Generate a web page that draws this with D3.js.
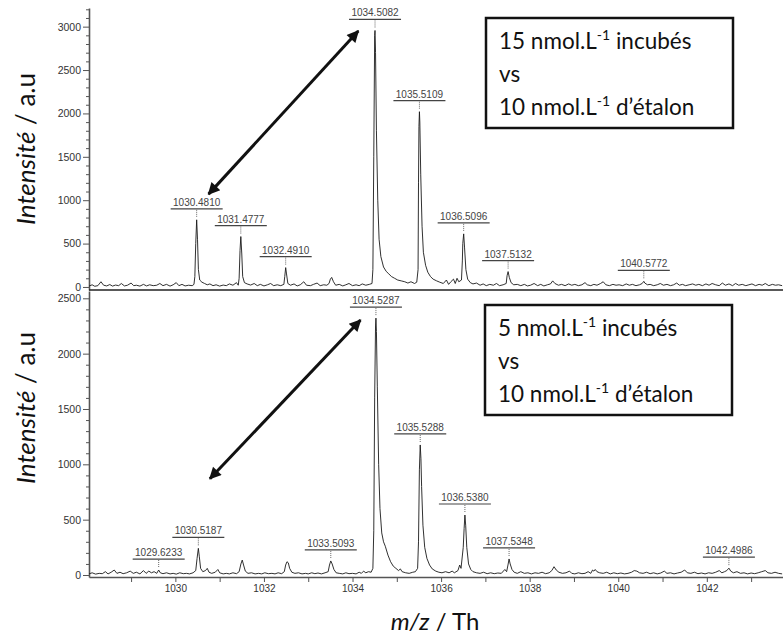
<!DOCTYPE html>
<html lang="fr">
<head>
<meta charset="UTF-8">
<script src="https://d3js.org/d3.v7.min.js"></script>
<style>
  body { margin: 0; background: #fff; }
  .tick text { font-family: "Liberation Sans", Arial, sans-serif; font-size: 10px; fill: #333; }
  .yax .tick text { font-size: 10.5px; }
  .tick line, .domain { stroke: #555; }
  .peak-label { font-family: "Liberation Sans", Arial, sans-serif; font-size: 10px; fill: #444; text-anchor: middle; }
  .big { font-family: Lato, "Open Sans", sans-serif; fill: #111; }
</style>
</head>
<body>
<svg id="chart" width="783" height="639"></svg>
<script>
// spectrum, 15 nmol/L incubated (m/z, intensity)
const topSpectrum = [
  [1028.05,10],[1028.12,25],[1028.18,8],[1028.25,15],[1028.32,60],[1028.38,20],[1028.45,12],[1028.52,28],
  [1028.58,10],[1028.65,22],[1028.72,15],[1028.78,40],[1028.85,12],[1028.92,20],[1029.0,45],[1029.06,15],
  [1029.12,20],[1029.2,10],[1029.28,30],[1029.35,12],[1029.42,25],[1029.5,15],[1029.58,20],[1029.65,40],
  [1029.72,15],[1029.8,30],[1029.88,10],[1029.95,25],[1030.02,50],[1030.08,15],[1030.15,30],[1030.22,12],
  [1030.3,20],[1030.38,15],[1030.42,30],
  [1030.44,120],[1030.46,500],[1030.481,774],[1030.50,550],[1030.52,200],[1030.55,80],[1030.6,55],[1030.66,40],
  [1030.72,25],[1030.78,35],[1030.85,15],[1030.92,25],[1031.0,10],[1031.08,22],[1031.15,15],[1031.22,35],
  [1031.3,20],[1031.38,50],[1031.42,20],
  [1031.44,100],[1031.46,420],[1031.478,581],[1031.50,380],[1031.52,120],[1031.56,50],[1031.62,35],[1031.7,22],
  [1031.78,40],[1031.85,15],[1031.92,30],[1032.0,12],[1032.08,25],[1032.15,40],[1032.22,15],[1032.3,25],
  [1032.38,15],[1032.45,30],
  [1032.47,120],[1032.491,223],[1032.51,150],[1032.54,40],[1032.6,20],[1032.68,35],[1032.75,12],[1032.82,25],
  [1032.9,60],[1032.96,20],[1033.05,15],[1033.12,30],[1033.2,45],[1033.27,15],[1033.35,25],[1033.42,20],
  [1033.47,40],[1033.5,90],[1033.53,110],[1033.57,60],[1033.62,20],[1033.7,30],[1033.78,12],[1033.85,25],
  [1033.92,40],[1034.0,15],[1034.08,25],[1034.15,15],[1034.22,35],[1034.3,20],[1034.38,30],[1034.44,40],
  [1034.46,200],[1034.48,1500],[1034.50,2900],[1034.508,2956],[1034.52,2700],[1034.54,1800],[1034.57,1000],
  [1034.6,550],[1034.64,350],[1034.7,230],[1034.76,180],[1034.82,150],[1034.88,120],[1034.95,100],[1035.02,80],
  [1035.1,70],[1035.18,60],[1035.25,45],[1035.32,60],[1035.4,40],[1035.45,55],[1035.48,200],
  [1035.49,1200],[1035.50,1850],[1035.511,2020],[1035.52,1900],[1035.54,1300],[1035.57,700],[1035.6,400],
  [1035.65,250],[1035.7,170],[1035.76,120],[1035.82,90],[1035.9,70],[1035.97,55],[1036.05,40],[1036.12,80],
  [1036.17,30],[1036.22,60],[1036.28,90],[1036.32,40],[1036.36,100],[1036.4,60],[1036.46,80],[1036.48,300],
  [1036.49,500],[1036.51,612],[1036.53,450],[1036.56,200],[1036.6,90],[1036.66,50],[1036.72,35],[1036.8,45],
  [1036.88,20],[1036.95,35],[1037.02,15],[1037.1,30],[1037.18,20],[1037.25,40],[1037.32,15],[1037.4,25],
  [1037.47,40],
  [1037.49,130],[1037.513,177],[1037.54,110],[1037.58,50],[1037.64,25],[1037.72,30],[1037.8,15],[1037.88,30],
  [1037.95,12],[1038.02,20],[1038.1,40],[1038.18,15],[1038.25,30],[1038.32,12],[1038.4,25],[1038.47,35],
  [1038.52,70],[1038.57,40],[1038.65,20],[1038.72,30],[1038.8,15],[1038.88,35],[1038.95,20],[1039.02,30],
  [1039.1,15],[1039.18,25],[1039.25,50],[1039.3,25],[1039.38,15],[1039.45,30],[1039.52,20],[1039.6,40],
  [1039.66,60],[1039.72,25],[1039.8,15],[1039.88,30],[1039.95,20],[1040.02,25],[1040.1,15],[1040.18,35],
  [1040.25,20],[1040.32,30],[1040.4,15],[1040.48,25],[1040.54,40],[1040.577,65],[1040.6,45],[1040.66,25],
  [1040.72,30],[1040.8,15],[1040.88,25],[1040.95,40],[1041.02,20],[1041.1,30],[1041.18,15],[1041.25,25],
  [1041.32,45],[1041.38,20],[1041.45,30],[1041.52,15],[1041.6,25],[1041.68,35],[1041.75,20],[1041.82,30],
  [1041.9,15],[1041.98,35],[1042.05,20],[1042.12,40],[1042.2,25],[1042.28,15],[1042.35,45],[1042.42,20],
  [1042.5,35],[1042.58,15],[1042.65,40],[1042.72,20],[1042.8,30],[1042.88,15],[1042.95,25],[1043.02,35],
  [1043.1,15],[1043.18,30],[1043.25,20],[1043.32,40],[1043.4,15],[1043.48,30],[1043.55,20],[1043.62,25],
  [1043.7,15]
];

// spectrum, 5 nmol/L incubated (m/z, intensity)
const bottomSpectrum = [
  [1028.05,10],[1028.12,20],[1028.2,8],[1028.28,15],[1028.35,12],[1028.42,30],[1028.48,10],[1028.55,25],
  [1028.62,45],[1028.68,15],[1028.75,25],[1028.82,12],[1028.9,20],[1028.98,35],[1029.05,15],[1029.12,25],
  [1029.2,10],[1029.28,40],[1029.34,15],[1029.4,35],[1029.46,20],[1029.52,30],[1029.58,15],[1029.623,45],
  [1029.66,20],[1029.72,12],[1029.8,20],[1029.88,10],[1029.95,15],[1030.02,8],[1030.1,20],[1030.18,12],
  [1030.25,15],[1030.32,10],[1030.4,20],[1030.46,40],
  [1030.49,150],[1030.519,241],[1030.54,170],[1030.57,60],[1030.62,30],[1030.68,40],[1030.72,60],[1030.76,25],
  [1030.82,15],[1030.9,25],[1030.96,50],[1031.0,20],[1031.08,10],[1031.15,15],[1031.22,10],[1031.3,20],
  [1031.38,12],[1031.44,30],
  [1031.48,100],[1031.51,135],[1031.54,90],[1031.58,35],[1031.64,15],[1031.72,20],[1031.8,10],[1031.88,15],
  [1031.95,10],[1032.02,20],[1032.1,12],[1032.18,15],[1032.25,10],[1032.32,20],[1032.4,12],[1032.46,30],
  [1032.49,90],[1032.52,120],[1032.55,110],[1032.58,60],[1032.63,25],[1032.7,15],[1032.78,20],[1032.86,10],
  [1032.94,15],[1033.0,10],[1033.08,20],[1033.15,12],[1033.22,18],[1033.3,10],[1033.38,20],[1033.45,30],
  [1033.48,90],[1033.509,127],[1033.54,100],[1033.58,50],[1033.63,20],[1033.7,15],[1033.78,10],[1033.85,20],
  [1033.92,12],[1034.0,15],[1034.08,10],[1034.15,25],[1034.2,15],[1034.25,35],[1034.3,20],[1034.36,30],
  [1034.42,25],[1034.46,60],
  [1034.48,400],[1034.50,1600],[1034.52,2250],[1034.529,2321],[1034.54,2200],[1034.56,1700],[1034.59,1000],
  [1034.62,600],[1034.66,380],[1034.7,300],[1034.74,260],[1034.8,180],[1034.86,120],[1034.92,80],[1034.98,60],
  [1035.04,40],[1035.08,55],[1035.12,30],[1035.2,20],[1035.28,15],[1035.36,25],[1035.42,30],[1035.47,60],
  [1035.49,300],[1035.51,950],[1035.529,1175],[1035.545,1050],[1035.56,800],[1035.59,450],[1035.63,250],
  [1035.68,150],[1035.74,90],[1035.8,55],[1035.88,35],[1035.95,25],[1036.02,20],[1036.1,30],[1036.18,20],
  [1036.25,35],[1036.3,20],[1036.38,40],[1036.42,90],[1036.45,60],[1036.5,250],
  [1036.52,420],[1036.538,542],[1036.555,450],[1036.58,250],[1036.62,100],[1036.67,50],[1036.72,30],[1036.8,20],
  [1036.88,15],[1036.96,25],[1037.04,12],[1037.12,20],[1037.2,12],[1037.28,18],[1037.36,15],[1037.44,50],
  [1037.48,30],[1037.51,90],
  [1037.535,145],[1037.56,100],[1037.6,50],[1037.65,25],[1037.72,15],[1037.8,30],[1037.88,15],[1037.96,20],
  [1038.04,10],[1038.12,20],[1038.2,15],[1038.28,25],[1038.36,12],[1038.44,20],[1038.5,40],[1038.55,75],
  [1038.6,45],[1038.66,25],[1038.74,15],[1038.82,20],[1038.9,35],[1038.95,15],[1039.02,10],[1039.1,20],
  [1039.18,12],[1039.25,15],[1039.32,30],[1039.38,15],[1039.42,45],[1039.45,35],[1039.48,50],[1039.52,30],
  [1039.58,20],[1039.66,15],[1039.74,25],[1039.82,10],[1039.9,20],[1039.98,12],[1040.06,18],[1040.14,10],
  [1040.22,15],[1040.3,25],[1040.36,40],[1040.42,35],[1040.48,20],[1040.56,15],[1040.64,25],[1040.72,12],
  [1040.8,20],[1040.88,10],[1040.96,18],[1041.04,35],[1041.1,15],[1041.18,20],[1041.26,10],[1041.34,18],
  [1041.42,25],[1041.5,45],[1041.56,20],[1041.64,15],[1041.72,25],[1041.8,12],[1041.88,18],[1041.96,10],
  [1042.04,20],[1042.12,15],[1042.2,25],[1042.28,40],[1042.34,20],[1042.4,30],[1042.45,40],[1042.499,62],
  [1042.54,35],[1042.6,20],[1042.68,30],[1042.76,15],[1042.84,20],[1042.92,10],[1043.0,18],[1043.08,12],
  [1043.16,20],[1043.24,30],[1043.32,40],[1043.38,20],[1043.46,15],[1043.54,25],[1043.62,15],[1043.7,10]
];

// annotated peaks (m/z, peak height)
const topPeaks = [[1030.4810,774],[1031.4777,581],[1032.4910,223],[1034.5082,2956],[1035.5109,2020],
                  [1036.5096,612],[1037.5132,177],[1040.5772,65]];
const bottomPeaks = [[1029.6233,45],[1030.5187,241],[1033.5093,127],[1034.5287,2321],[1035.5288,1175],
                     [1036.5380,542],[1037.5348,145],[1042.4986,62]];

// double arrows (m/z, intensity) for each panel
const topArrow = [[1030.75,1070],[1034.13,2950]];
const bottomArrow = [[1030.78,870],[1034.18,2304]];

const topTicks = [0,500,1000,1500,2000,2500,3000];
const bottomTicks = [0,500,1000,1500,2000,2500];
const mzTicks = [1030,1032,1034,1036,1038,1040,1042];

const topLegend = ["15 nmol.L", "-1", " incubés", "vs", "10 nmol.L", "-1", " d\u2019étalon"];
const bottomLegend = ["5 nmol.L", "-1", " incubés", "vs", "10 nmol.L", "-1", " d\u2019étalon"];

const svg = d3.select("#chart");
const left = 89, right = 783;

const x = d3.scaleLinear().domain([1028.05, 1043.72]).range([left, right]);
const yTop = d3.scaleLinear().domain([-35, 3215]).range([290, 8]);
const yBot = d3.scaleLinear().domain([-18, 2566]).range([577, 291]);

// arrow head
svg.append("defs").append("marker")
    .attr("id", "head")
    .attr("viewBox", "0 0 10 10")
    .attr("refX", 9).attr("refY", 5)
    .attr("markerUnits", "userSpaceOnUse")
    .attr("markerWidth", 15).attr("markerHeight", 12)
    .attr("orient", "auto-start-reverse")
  .append("path")
    .attr("d", "M0,0 L10,5 L0,10 z")
    .attr("fill", "#111");

function panel(y, spectrum, peaks, ticks, arrow, legend, box) {
    const g = svg.append("g");

    // minor y ticks
    g.append("g")
        .attr("transform", "translate(" + left + ",0)")
        .call(d3.axisLeft(y).tickValues(d3.range(0, y.domain()[1], 100).filter(d => d % 500)).tickSize(3).tickFormat(""))
        .call(a => a.select(".domain").remove());

    // major y ticks + axis line
    g.append("g")
        .attr("class", "yax")
        .attr("transform", "translate(" + left + ",0)")
        .call(d3.axisLeft(y).tickValues(ticks).tickSize(6).tickSizeOuter(0).tickPadding(2).tickFormat(d3.format("d")))
        .call(a => a.select(".domain").attr("stroke-width", 1.6));

    // spectrum
    const line = d3.line().x(d => x(d[0])).y(d => y(d[1]));
    g.append("path")
        .datum(spectrum)
        .attr("d", line)
        .attr("fill", "none")
        .attr("stroke", "#1a1a1a")
        .attr("stroke-width", 0.9);

    // peak labels
    const lab = g.selectAll(".lab").data(peaks).enter().append("g").attr("class", "lab");
    lab.append("line")
        .attr("x1", d => x(d[0])).attr("x2", d => x(d[0]))
        .attr("y1", d => y(d[1]) - 10).attr("y2", d => y(d[1]) - 2)
        .attr("stroke", "#666").attr("stroke-dasharray", "1,1");
    lab.append("line")
        .attr("x1", d => x(d[0]) - 26).attr("x2", d => x(d[0]) + 26)
        .attr("y1", d => y(d[1]) - 11).attr("y2", d => y(d[1]) - 11)
        .attr("stroke", "#444").attr("stroke-width", 1.2);
    lab.append("text")
        .attr("class", "peak-label")
        .attr("x", d => x(d[0]))
        .attr("y", d => y(d[1]) - 14)
        .text(d => d[0].toFixed(4));

    // double arrow
    g.append("line")
        .attr("x1", x(arrow[0][0])).attr("y1", y(arrow[0][1]))
        .attr("x2", x(arrow[1][0])).attr("y2", y(arrow[1][1]))
        .attr("stroke", "#111").attr("stroke-width", 3)
        .attr("marker-start", "url(#head)")
        .attr("marker-end", "url(#head)");

    // legend box
    g.append("rect")
        .attr("x", box.x).attr("y", box.y).attr("width", 247).attr("height", 110)
        .attr("fill", "#fff").attr("stroke", "#111").attr("stroke-width", 2.5);
    const lines = [legend.slice(0, 3), [legend[3]], legend.slice(4)];
    lines.forEach((parts, i) => {
        const t = g.append("text").attr("class", "big")
            .attr("x", box.x + 13).attr("y", box.y + 31 + i * 33)
            .style("font-size", "22.5px");
        parts.forEach((p, j) => {
            const s = t.append("tspan").text(p);
            if (j === 1) s.attr("dy", -9).style("font-size", "14px");
            if (j === 2) s.attr("dy", 9);
        });
    });
}

panel(yTop, topSpectrum, topPeaks, topTicks, topArrow, topLegend, {x: 486, y: 18});
panel(yBot, bottomSpectrum, bottomPeaks, bottomTicks, bottomArrow, bottomLegend, {x: 485, y: 305});

// separator line below the top panel
svg.append("line")
    .attr("x1", left).attr("x2", right)
    .attr("y1", yTop.range()[0]).attr("y2", yTop.range()[0])
    .attr("stroke", "#222").attr("stroke-width", 1.6);

// m/z axis
svg.append("g")
    .attr("transform", "translate(0," + yBot.range()[0] + ")")
    .call(d3.axisBottom(x).tickValues(d3.range(1029, 1044)).tickSize(5).tickSizeOuter(0)
        .tickFormat(d => mzTicks.includes(d) ? d : ""))
    .call(a => a.select(".domain").attr("stroke", "#222").attr("stroke-width", 1.6));

// axis titles
function yTitle(cy) {
    const t = svg.append("text").attr("class", "big")
        .attr("transform", "translate(35," + cy + ") rotate(-90)")
        .attr("text-anchor", "middle")
        .style("font-size", "26px");
    t.append("tspan").style("font-style", "italic").text("Intensité");
    t.append("tspan").text(" / a.u");
}
yTitle(149);
yTitle(408);

const xt = svg.append("text").attr("class", "big")
    .attr("x", 435).attr("y", 630)
    .attr("text-anchor", "middle")
    .style("font-size", "24px");
xt.append("tspan").style("font-style", "italic").text("m/z");
xt.append("tspan").text(" / Th");
</script>
</body>
</html>
